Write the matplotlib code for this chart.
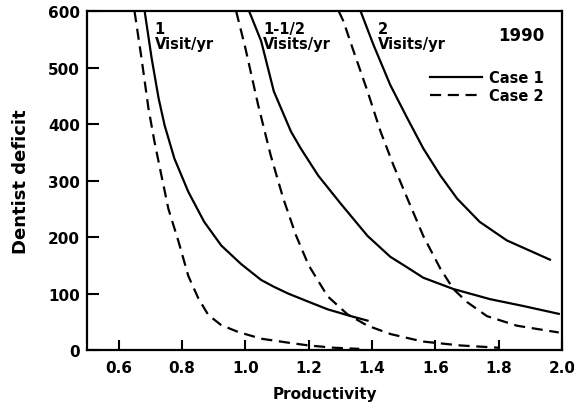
import numpy as np
import matplotlib.pyplot as plt

# curves: productivity vs dentist deficit
# 1 visit/yr
c1_1_x = [0.682, 0.704, 0.726, 0.745, 0.776, 0.82, 0.87, 0.924, 0.987, 1.05, 1.09, 1.135, 1.197, 1.26, 1.333, 1.386]
c1_1_y = [600, 517, 446, 398, 339, 280, 227, 185, 152, 124, 112, 100, 86, 72, 60, 52]
c2_1_x = [0.65, 0.672, 0.694, 0.713, 0.735, 0.757, 0.789, 0.82, 0.852, 0.883, 0.924, 0.977, 1.05, 1.135, 1.2, 1.28, 1.36]
c2_1_y = [600, 517, 428, 369, 309, 250, 192, 131, 91, 62, 44, 32, 20, 13, 8, 4, 2]
# 1-1/2 visits/yr
c1_15_x = [1.012, 1.05, 1.09, 1.144, 1.175, 1.23, 1.30, 1.386, 1.458, 1.512, 1.562, 1.657, 1.773, 1.877, 1.99]
c1_15_y = [600, 547, 458, 387, 357, 309, 260, 202, 165, 146, 128, 108, 90, 78, 64]
c2_15_x = [0.971, 1.0, 1.04, 1.08, 1.12, 1.16, 1.2, 1.26, 1.323, 1.386, 1.46, 1.56, 1.68, 1.8]
c2_15_y = [600, 535, 435, 345, 268, 203, 150, 95, 63, 43, 28, 15, 8, 4]
# 2 visits/yr
c1_2_x = [1.364, 1.405, 1.458, 1.512, 1.562, 1.616, 1.669, 1.74, 1.826, 1.962]
c1_2_y = [600, 540, 469, 410, 357, 309, 268, 227, 194, 160]
c2_2_x = [1.295, 1.31, 1.342, 1.386, 1.427, 1.468, 1.512, 1.562, 1.616, 1.657, 1.70, 1.763, 1.858, 1.99]
c2_2_y = [600, 582, 529, 458, 387, 327, 268, 202, 144, 108, 85, 60, 43, 31]

xticks = [0.6, 0.8, 1.0, 1.2, 1.4, 1.6, 1.8, 2.0]
yticks = [0, 100, 200, 300, 400, 500, 600]

plt.rcParams['font.family'] = ['DejaVu Sans']
plt.rcParams['font.weight'] = 'bold'
plt.rcParams['axes.labelweight'] = 'bold'

fig = plt.figure(figsize=(5.74, 4.06), dpi=100)
ax = fig.add_axes([0.1516, 0.1355, 0.8274, 0.8345])

dash = (0, (5, 3))
kw = dict(color="black", lw=1.6, solid_joinstyle="round", dash_joinstyle="round")
ax.plot(c1_1_x, c1_1_y, label="Case 1", **kw)
ax.plot(c2_1_x, c2_1_y, ls=dash, label="Case 2", **kw)
ax.plot(c1_15_x, c1_15_y, **kw)
ax.plot(c2_15_x, c2_15_y, ls=dash, **kw)
ax.plot(c1_2_x, c1_2_y, **kw)
ax.plot(c2_2_x, c2_2_y, ls=dash, **kw)

ax.set_xlim(0.5, 2.0)
ax.set_ylim(0, 600)
ax.set_xticks(xticks)
ax.set_xticklabels(["%.1f" % t for t in xticks])
ax.set_yticks(yticks)
ax.tick_params(direction="in", width=1.5, labelsize=11)
ax.tick_params(axis="y", length=8.5, pad=5)
ax.tick_params(axis="x", length=7, pad=7)
for s in ax.spines.values():
    s.set_linewidth(1.6)

ax.text(0.713, 582, "1\nVisit/yr", fontsize=10.5, va="top", linespacing=1.0)
ax.text(1.056, 582, "1-1/2\nVisits/yr", fontsize=10.5, va="top", linespacing=1.0)
ax.text(1.42, 582, "2\nVisits/yr", fontsize=10.5, va="top", linespacing=1.0)
ax.text(1.946, 558, "1990", fontsize=12, ha="right", va="center")

ax.legend(loc="upper right", bbox_to_anchor=(0.99, 0.865), frameon=False,
          handlelength=3.6, fontsize=10.5, labelspacing=0.2, handletextpad=0.5)

ax.set_xlabel("Productivity", fontsize=11, labelpad=8)
ax.set_ylabel("Dentist deficit", fontsize=13, labelpad=13)

plt.savefig("out.png", dpi=100)
